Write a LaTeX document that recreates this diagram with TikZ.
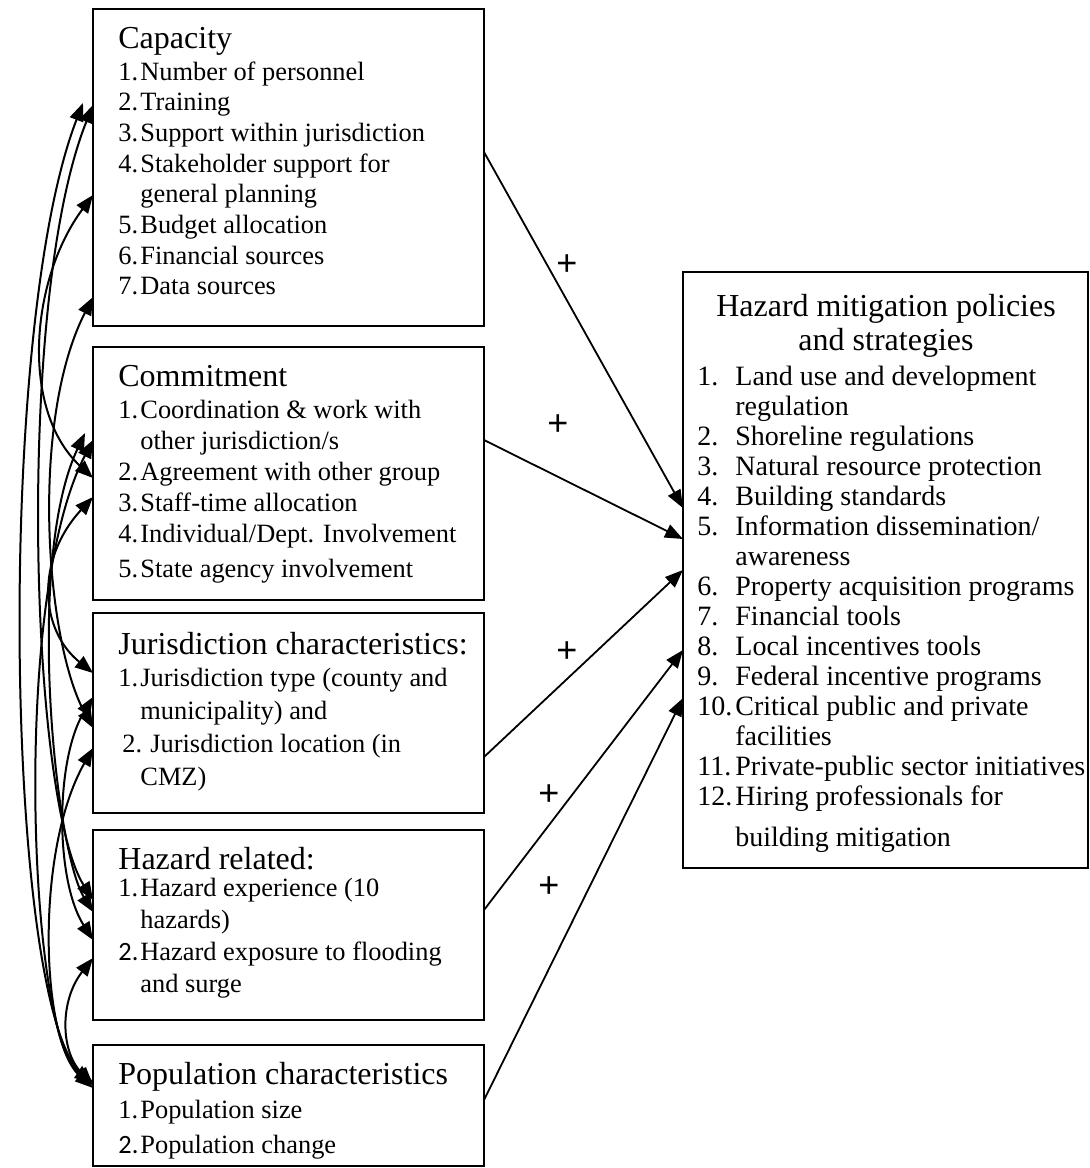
\documentclass[tikz,border=0pt]{standalone}
\usepackage{fontspec}
\setmainfont{Liberation Serif}
\newfontfamily\sansplus{Liberation Sans}
\newfontfamily\calib{Carlito}
\usetikzlibrary{arrows.meta,calc}
\newcommand{\nb}[1]{\makebox[11pt][l]{#1}}
\newcommand{\nbr}[1]{\makebox[19pt][l]{#1}}
\begin{document}
\begin{tikzpicture}[x=0.5pt,y=-0.5pt,
  box/.style={draw, line width=1pt, anchor=north west, inner sep=0pt, outer sep=0pt},
  ttl/.style={anchor=base west, inner sep=0pt, font=\fontsize{16}{17}\selectfont},
  lst/.style={anchor=base west, inner sep=0pt},
  eff/.style={line width=0.9pt, -{Triangle[length=9pt,width=7pt]}},
  corr/.style={line width=1pt, {Triangle[length=9pt,width=7pt]}-{Triangle[length=9pt,width=7pt]}},
  sign/.style={font=\sansplus\fontsize{18}{18}\selectfont, inner sep=0pt}]
\useasboundingbox (0,0) rectangle (1089,1168);

% boxes
\node[box, minimum width=195.5pt, minimum height=158.5pt] (cap) at (93,9) {};
\node[box, minimum width=195.5pt, minimum height=126.5pt] (com) at (93,347) {};
\node[box, minimum width=195.5pt, minimum height=100pt] (jur) at (93,613) {};
\node[box, minimum width=195.5pt, minimum height=95pt] (haz) at (93,830) {};
\node[box, minimum width=195.5pt, minimum height=60.5pt] (pop) at (93,1045) {};
\node[box, minimum width=202.5pt, minimum height=298pt] (pol) at (683,272) {};

% titles
\node[ttl] (capT) at (118,48) {Capacity};
\node[ttl] (comT) at (118,386) {Commitment};
\node[ttl] (jurT) at (118,654) {Jurisdiction characteristics:};
\node[ttl] (hazT) at (118,869) {Hazard related:};
\node[ttl] (popT) at (118,1084) {Population characteristics};
\node[anchor=base, inner sep=0pt] (polT) at (886,316) {\fontsize{16}{17}\selectfont\begin{tabular}[t]{@{}c@{}}Hazard mitigation policies\\ and strategies\end{tabular}};

% lists
\node[lst] (capL) at (118,80) {\fontsize{13.2}{15.35}\selectfont\begin{tabular}[t]{@{}l@{}}
\nb{1.}Number of personnel\\
\nb{2.}Training\\
\nb{3.}Support within jurisdiction\\
\nb{4.}Stakeholder support for\\
\nb{}general planning\\
\nb{5.}Budget allocation\\
\nb{6.}Financial sources\\
\nb{7.}Data sources
\end{tabular}};

\node[lst] (comL) at (118,418) {\fontsize{13.2}{15.5}\selectfont\begin{tabular}[t]{@{}l@{}}
\nb{1.}Coordination \& work with\\
\nb{}other jurisdiction/s\\
\nb{2.}Agreement with other group\\
\nb{3.}Staff-time allocation\\
\nb{4.}Individual/Dept. Involvement\\[2pt]
\nb{5.}State agency involvement
\end{tabular}};

\node[lst] (jurL) at (118,686) {\fontsize{13.2}{16.5}\selectfont\begin{tabular}[t]{@{}l@{}}
\nb{1.}Jurisdiction type (county and\\
\nb{}municipality) and\\
\hspace{2pt}\nb{2.}\hspace{3pt}Jurisdiction location (in\\
\nb{}CMZ)
\end{tabular}};

\node[lst] (hazL) at (118,896) {\fontsize{13.2}{16}\selectfont\begin{tabular}[t]{@{}l@{}}
\nb{1.}Hazard experience (10\\
\nb{}hazards)\\
\nb{\calib 2.}Hazard exposure to flooding\\
\nb{}and surge
\end{tabular}};

\node[lst] (popL) at (118,1118) {\fontsize{13.2}{17.5}\selectfont\begin{tabular}[t]{@{}l@{}}
\nb{1.}Population size\\
\nb{\calib 2.}Population change
\end{tabular}};

\node[lst] (polL) at (697,385) {\fontsize{14}{15}\selectfont\begin{tabular}[t]{@{}l@{}}
\nbr{1.}Land use and development\\
\nbr{}regulation\\
\nbr{2.}Shoreline regulations\\
\nbr{3.}Natural resource protection\\
\nbr{4.}Building standards\\
\nbr{5.}Information dissemination/\\
\nbr{}awareness\\
\nbr{6.}Property acquisition programs\\
\nbr{7.}Financial tools\\
\nbr{8.}Local incentives tools\\
\nbr{9.}Federal incentive programs\\
\nbr{10.}Critical public and private\\
\nbr{}facilities\\
\nbr{11.}Private-public sector initiatives\\
\nbr{12.}Hiring professionals for\\[5.5pt]
\nbr{}building mitigation
\end{tabular}};

% effect arrows
\draw[eff] (cap.east |- 0,152) -- (pol.west |- 0,508);
\draw[eff] (com.east |- 0,440) -- (pol.west |- 0,539);
\draw[eff] (jur.east |- 0,757) -- (pol.west |- 0,570);
\draw[eff] (haz.east |- 0,910) -- (pol.west |- 0,650);
\draw[eff] (pop.east |- 0,1100) -- (pol.west |- 0,698);

\node[sign] (p1) at (567,265) {+};
\node[sign] (p2) at (558,425) {+};
\node[sign] (p3) at (567,652) {+};
\node[sign] (p4) at (549,795) {+};
\node[sign] (p5) at (549,887) {+};

% correlation curves
\draw[corr] ($(cap.west |- 0,103)+(-10,0)$) .. controls (-5,330) and (5,1000) .. (pop.west |- 0,1085);
\draw[corr] (cap.west |- 0,105) .. controls (15,300) and (30,800) .. (haz.west |- 0,900);
\draw[corr] (cap.west |- 0,195) .. controls (30,280) and (20,410) .. (com.west |- 0,478);
\draw[corr] (cap.west |- 0,297) .. controls (30,420) and (45,640) .. (jur.west |- 0,728);
\draw[corr] (com.west |- 0,497) .. controls (35,560) and (40,630) .. (jur.west |- 0,673);
\draw[corr] ($(com.west |- 0,433)+(-8,0)$) .. controls (25,560) and (55,850) .. (haz.west |- 0,912);
\draw[corr] (com.west |- 0,440) .. controls (10,600) and (30,1040) .. (pop.west |- 0,1082);
\draw[corr] (jur.west |- 0,697) .. controls (55,760) and (55,880) .. (haz.west |- 0,940);
\draw[corr] (jur.west |- 0,748) .. controls (35,850) and (40,1040) .. (pop.west |- 0,1088);
\draw[corr] (haz.west |- 0,958) .. controls (60,1000) and (60,1050) .. (pop.west |- 0,1085);
\end{tikzpicture}
\end{document}
